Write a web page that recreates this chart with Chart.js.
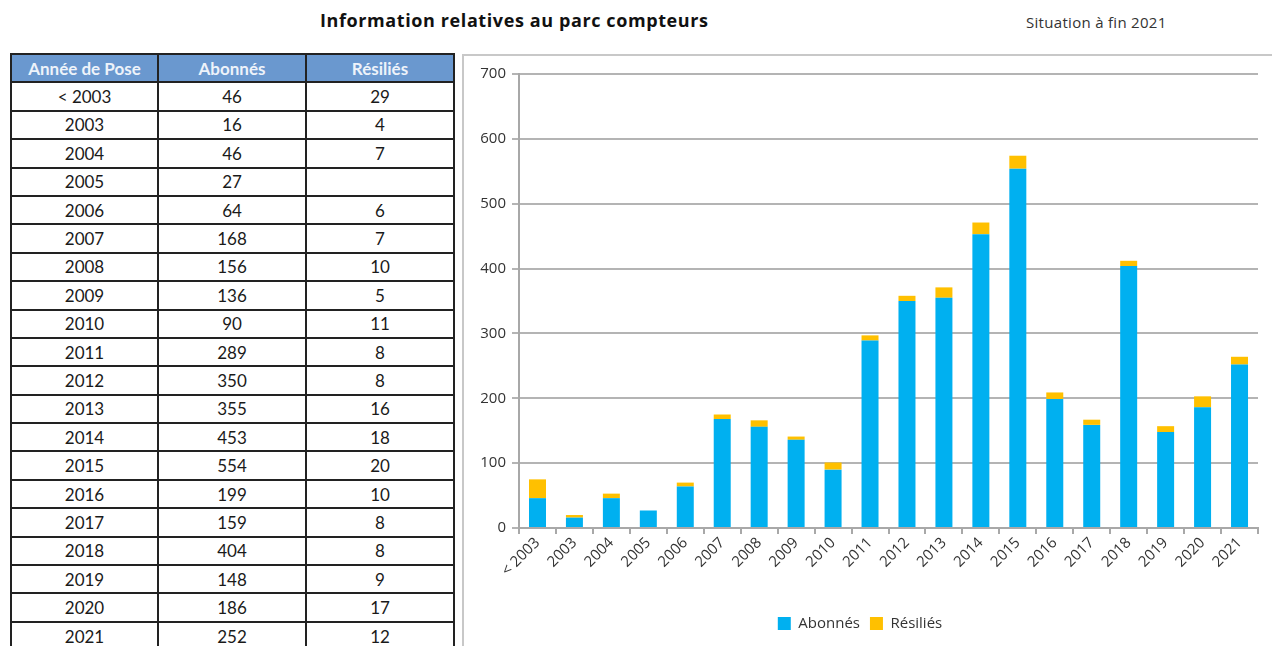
<!DOCTYPE html>
<html>
<head>
<meta charset="utf-8">
<script src="https://cdn.jsdelivr.net/npm/chart.js@4.4.0/dist/chart.umd.min.js"></script>
<style>
  body { margin: 0; background: #fff; font-family: Lato, "Open Sans", sans-serif; width: 1272px; height: 646px; overflow: hidden; position: relative; }
  .title { position: absolute; left: 320px; top: 8px; font-family: "Open Sans", sans-serif; font-size: 18px; letter-spacing: 0.6px; font-weight: bold; color: #111; }
  .situation { position: absolute; left: 1026px; top: 12px; font-family: "Open Sans", sans-serif; font-size: 15px; letter-spacing: 0.3px; color: #333; }
  table { position: absolute; left: 10px; top: 53px; border-collapse: collapse; width: 443px; table-layout: fixed; }
  th, td { border: 2px solid #222; height: 26.4px; padding: 0; text-align: center; font-size: 17px; color: #1a1a1a; }
  th { background: #6a98cf; color: #eef3fa; font-weight: bold; }
  .box { position: absolute; left: 462px; top: 54px; width: 816px; height: 600px; border: 2px solid #c8c8c8; box-sizing: border-box; }
  .wrap { position: absolute; left: 462px; top: 55px; width: 810px; height: 591px; }
</style>
</head>
<body>
<div class="title">Information relatives au parc compteurs</div>
<div class="situation">Situation à fin 2021</div>
<table id="tbl">
  <colgroup><col style="width:147px"><col style="width:148px"><col style="width:148px"></colgroup>
  <thead><tr><th>Année de Pose</th><th>Abonnés</th><th>Résiliés</th></tr></thead>
  <tbody></tbody>
</table>
<div class="box"></div>
<div class="wrap"><canvas id="chart"></canvas></div>
<script>
const years = ['< 2003', '2003', '2004', '2005', '2006', '2007', '2008', '2009', '2010', '2011',
  '2012', '2013', '2014', '2015', '2016', '2017', '2018', '2019', '2020', '2021'];
const abonnes = [46, 16, 46, 27, 64, 168, 156, 136, 90, 289, 350, 355, 453, 554, 199, 159, 404, 148, 186, 252];
const resilies = [29, 4, 7, null, 6, 7, 10, 5, 11, 8, 8, 16, 18, 20, 10, 8, 8, 9, 17, 12];
const yTicks = [0, 100, 200, 300, 400, 500, 600, 700];

// table rows
const tbody = document.querySelector('#tbl tbody');
years.forEach(function (y, i) {
  const tr = document.createElement('tr');
  [y, abonnes[i], resilies[i] === null ? '' : resilies[i]].forEach(function (v) {
    const td = document.createElement('td');
    td.textContent = v;
    tr.appendChild(td);
  });
  tbody.appendChild(tr);
});

const tickFont = { family: '"Open Sans", sans-serif', size: 15 };

new Chart(document.getElementById('chart'), {
  type: 'bar',
  data: {
    labels: years,
    datasets: [
      { label: 'Abonnés', data: abonnes, backgroundColor: '#00b0f0', barPercentage: 0.46, categoryPercentage: 1 },
      { label: 'Résiliés', data: resilies, backgroundColor: '#ffc000', barPercentage: 0.46, categoryPercentage: 1 }
    ]
  },
  options: {
    responsive: true,
    maintainAspectRatio: false,
    animation: false,
    layout: { padding: { top: 19, right: 14, left: 0, bottom: 5 } },
    plugins: {
      legend: {
        position: 'bottom',
        labels: { boxWidth: 13, boxHeight: 13, color: '#333', font: { family: tickFont.family, size: 15 }, padding: 10 }
      },
      tooltip: { enabled: false }
    },
    scales: {
      x: {
        stacked: true,
        grid: { drawOnChartArea: false, drawTicks: true, tickLength: 6, color: '#a8a8a8', lineWidth: 2 },
        border: { color: '#a8a8a8', width: 2 },
        ticks: { color: '#333', font: tickFont, maxRotation: 45, minRotation: 45, padding: 0 },
        afterFit: function (s) { s.height = 78; }
      },
      y: {
        stacked: true,
        min: 0,
        max: 700,
        afterBuildTicks: function (s) { s.ticks = yTicks.map(function (v) { return { value: v }; }); },
        grid: { color: '#b4b4b4', lineWidth: 2, tickLength: 7 },
        border: { color: '#a8a8a8', width: 2 },
        ticks: { color: '#333', font: tickFont, padding: 6 },
        afterFit: function (s) { s.width = 57; }
      }
    }
  }
});
</script>
</body>
</html>
